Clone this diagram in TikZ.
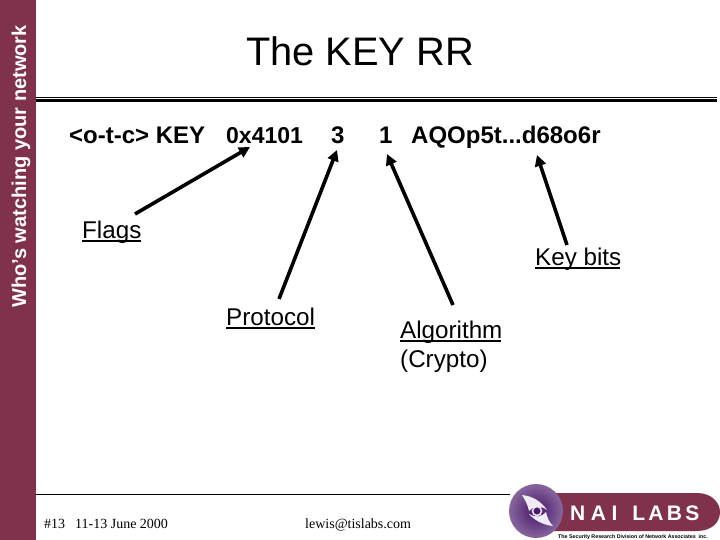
\documentclass[tikz,border=0pt]{standalone}
\usepackage{fontspec}
\setmainfont{Liberation Sans}
\newfontfamily\serifface{Liberation Serif}
\usetikzlibrary{arrows.meta}
\definecolor{barred}{RGB}{128,50,76}
\definecolor{ballpurple}{RGB}{70,20,105}
\tikzset{
  x=1pt,y=-1pt,
  lbl/.style={inner sep=0pt,anchor=base west,font=\fontsize{24.2}{28}\selectfont},
  rec/.style={inner sep=0pt,anchor=base west,font=\fontsize{24}{28}\selectfont\bfseries},
  foot/.style={inner sep=0pt,anchor=base west,font=\fontsize{14}{16}\selectfont\serifface},
  ptr/.style={line width=3.6pt,black,-{Triangle[length=11pt,width=11pt]}},
  ul/.style={line width=1.3pt,black}
}
\begin{document}
\begin{tikzpicture}
\useasboundingbox (0,0) rectangle (720,540);
\fill[white] (0,0) rectangle (720,540);
\fill[barred] (0,0) rectangle (36,540);
\node[inner sep=0pt,rotate=90,anchor=base west,text=white,font=\fontsize{20}{22}\selectfont\bfseries] (side) at (26,308) {Who’s watching your network};
\node[inner sep=0pt,anchor=base,font=\fontsize{39.8}{44}\selectfont] (title) at (360,66) {The KEY RR};
\draw[line width=1pt] (36,97.5) -- (717,97.5);
\draw[line width=2.6pt] (36,100.5) -- (717,100.5);
\node[rec] (rr) at (69,144) {<o-t-c> KEY};
\node[rec,font=\fontsize{23}{28}\selectfont\bfseries] (hex) at (226,144) {0x4101};
\node[rec] (three) at (331,144) {3};
\node[rec] (one) at (379,144) {1};
\node[rec] (key) at (411,144) {AQOp5t...d68o6r};
\node[lbl] (flags) at (82,238) {Flags};
\node[lbl] (keybits) at (535,265) {Key bits};
\node[lbl] (proto) at (226,325) {Protocol};
\node[lbl] (algo) at (400,338) {Algorithm};
\node[lbl] (crypto) at (400,367) {(Crypto)};
\draw[ul] (flags.base west)++(0,3) -- ++(59,0);
\draw[ul] (keybits.base west)++(0,3) -- ++(85,0);
\draw[ul] (proto.base west)++(0,3) -- ++(89,0);
\draw[ul] (algo.base west)++(0,3) -- ++(101,0);
\coordinate (fs) at (135,214);
\coordinate (fe) at (250,147);
\coordinate (ps) at (279,299);
\coordinate (pe) at (337,150);
\coordinate (as) at (453,305);
\coordinate (ae) at (387,154);
\coordinate (ks) at (567,245);
\coordinate (ke) at (537,155);
\draw[ptr] (fs) -- (fe);
\draw[ptr] (ps) -- (pe);
\draw[ptr] (as) -- (ae);
\draw[ptr] (ks) -- (ke);
\draw[line width=1pt] (36,494.5) -- (510,494.5);
\node[foot] (num) at (44,528) {\#13};
\node[foot] (date) at (75,528) {11-13 June 2000};
\node[foot] (mail) at (305,528) {lewis@tislabs.com};
% logo
\fill[barred] (540,493) -- (697,493) .. controls (712,493) and (720,503) .. (720,512) .. controls (720,522) and (712,531) .. (697,531) -- (540,531) -- cycle;
\shade[inner color=ballpurple,outer color=ballpurple!65!white] (536,511) circle (27);
\fill[white!92!ballpurple] (522,495) .. controls (532,496) and (541,501) .. (547,510) .. controls (540,505) and (533,506) .. (529,511) .. controls (528,505) and (525,500) .. (522,495) -- cycle;
\fill[white!92!ballpurple] (553,526) .. controls (543,525) and (534,520) .. (529,514) .. controls (535,518) and (542,517) .. (546,512) .. controls (547,518) and (550,523) .. (553,526) -- cycle;
\draw[white!92!ballpurple,line width=1.5pt] (537,511) circle (4.5);
\node[inner sep=0pt,anchor=base west,text=white,font=\fontsize{21}{23}\selectfont\bfseries] (nai) at (570,520) {N\kern5.5pt A\kern5.5pt I\kern15pt L\kern3.3pt A\kern3.3pt B\kern3.3pt S};
\node[inner sep=0pt,anchor=base west,font=\fontsize{5.3}{7}\selectfont\bfseries] (tag) at (558,538) {The Security Research Division of Network Associates \ inc.};
\end{tikzpicture}
\end{document}
